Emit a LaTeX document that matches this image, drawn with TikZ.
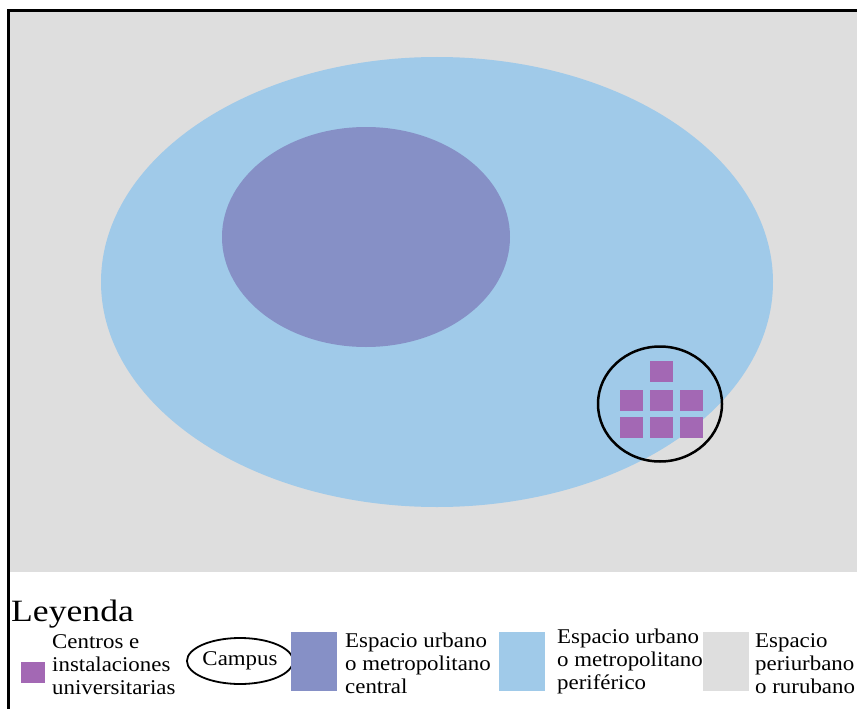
\documentclass[tikz,border=0pt]{standalone}
\usepackage{fontspec}
\usetikzlibrary{shapes.geometric}
\setmainfont{Liberation Serif}
\newfontfamily\legfont[FakeStretch=1.09]{Liberation Serif}
\newfontfamily\titlefont[FakeStretch=1.15]{Liberation Serif}
\definecolor{rural}{RGB}{222,222,222}
\definecolor{periph}{RGB}{160,202,233}
\definecolor{central}{RGB}{134,144,198}
\definecolor{univ}{RGB}{163,104,180}
\tikzset{
  unibox/.style={fill=univ, draw=none, minimum width=23pt, minimum height=21pt, inner sep=0pt},
  keybox/.style={draw=none, minimum width=46pt, minimum height=59pt, inner sep=0pt},
  keytext/.style={font=\legfont\fontsize{21}{23}\selectfont, align=left, anchor=base west, inner sep=0pt},
}
\begin{document}
\begin{tikzpicture}[x=1pt,y=-1pt]
\useasboundingbox (0,0) rectangle (857,709);
\fill[white] (0,0) rectangle (857,709);
% territorial rings
\fill[rural] (8,11) rectangle (857,572);
\fill[periph] (437,282) ellipse [x radius=336, y radius=225];
\fill[central] (366,237) ellipse [x radius=144, y radius=110];
% frame
\draw[line width=3pt] (8,709) -- (8,11) -- (857,11);
% campus with its buildings
\node[unibox] (u1) at (661,371) {};
\node[unibox] (u2) at (631,400) {};
\node[unibox] (u3) at (661,400) {};
\node[unibox] (u4) at (691,400) {};
\node[unibox] (u5) at (631,427) {};
\node[unibox] (u6) at (661,427) {};
\node[unibox] (u7) at (691,427) {};
\node[draw, line width=2.5pt, ellipse, minimum width=124pt, minimum height=115pt, inner sep=0pt] (campus) at (660,404) {};
% legend (base anchor = baseline of the last line)
\node[font=\titlefont\fontsize{31}{33}\selectfont, anchor=base west, inner sep=0pt] (ley) at (11,621) {Leyenda};
\node[fill=univ, minimum width=24pt, minimum height=21pt, inner sep=0pt] (k1) at (33,672) {};
\node[keytext] (t1) at (52,694) {Centros e\\instalaciones\\universitarias};
\node[draw, line width=1.8pt, ellipse, minimum width=92pt, minimum height=46pt, inner sep=0pt, font=\legfont\fontsize{21}{23}\selectfont] (k2) at (240,661) {Campus};
\node[keybox, fill=central] (k3) at (313.5,661) {};
\node[keytext] (t3) at (345,693) {Espacio urbano\\o metropolitano\\central};
\node[keybox, fill=periph] (k4) at (522,661) {};
\node[keytext] (t4) at (557,689) {Espacio urbano\\o metropolitano\\periférico};
\node[keybox, fill=rural] (k5) at (726,661) {};
\node[keytext] (t5) at (755,693) {Espacio\\periurbano\\o rurubano};
\end{tikzpicture}
\end{document}
